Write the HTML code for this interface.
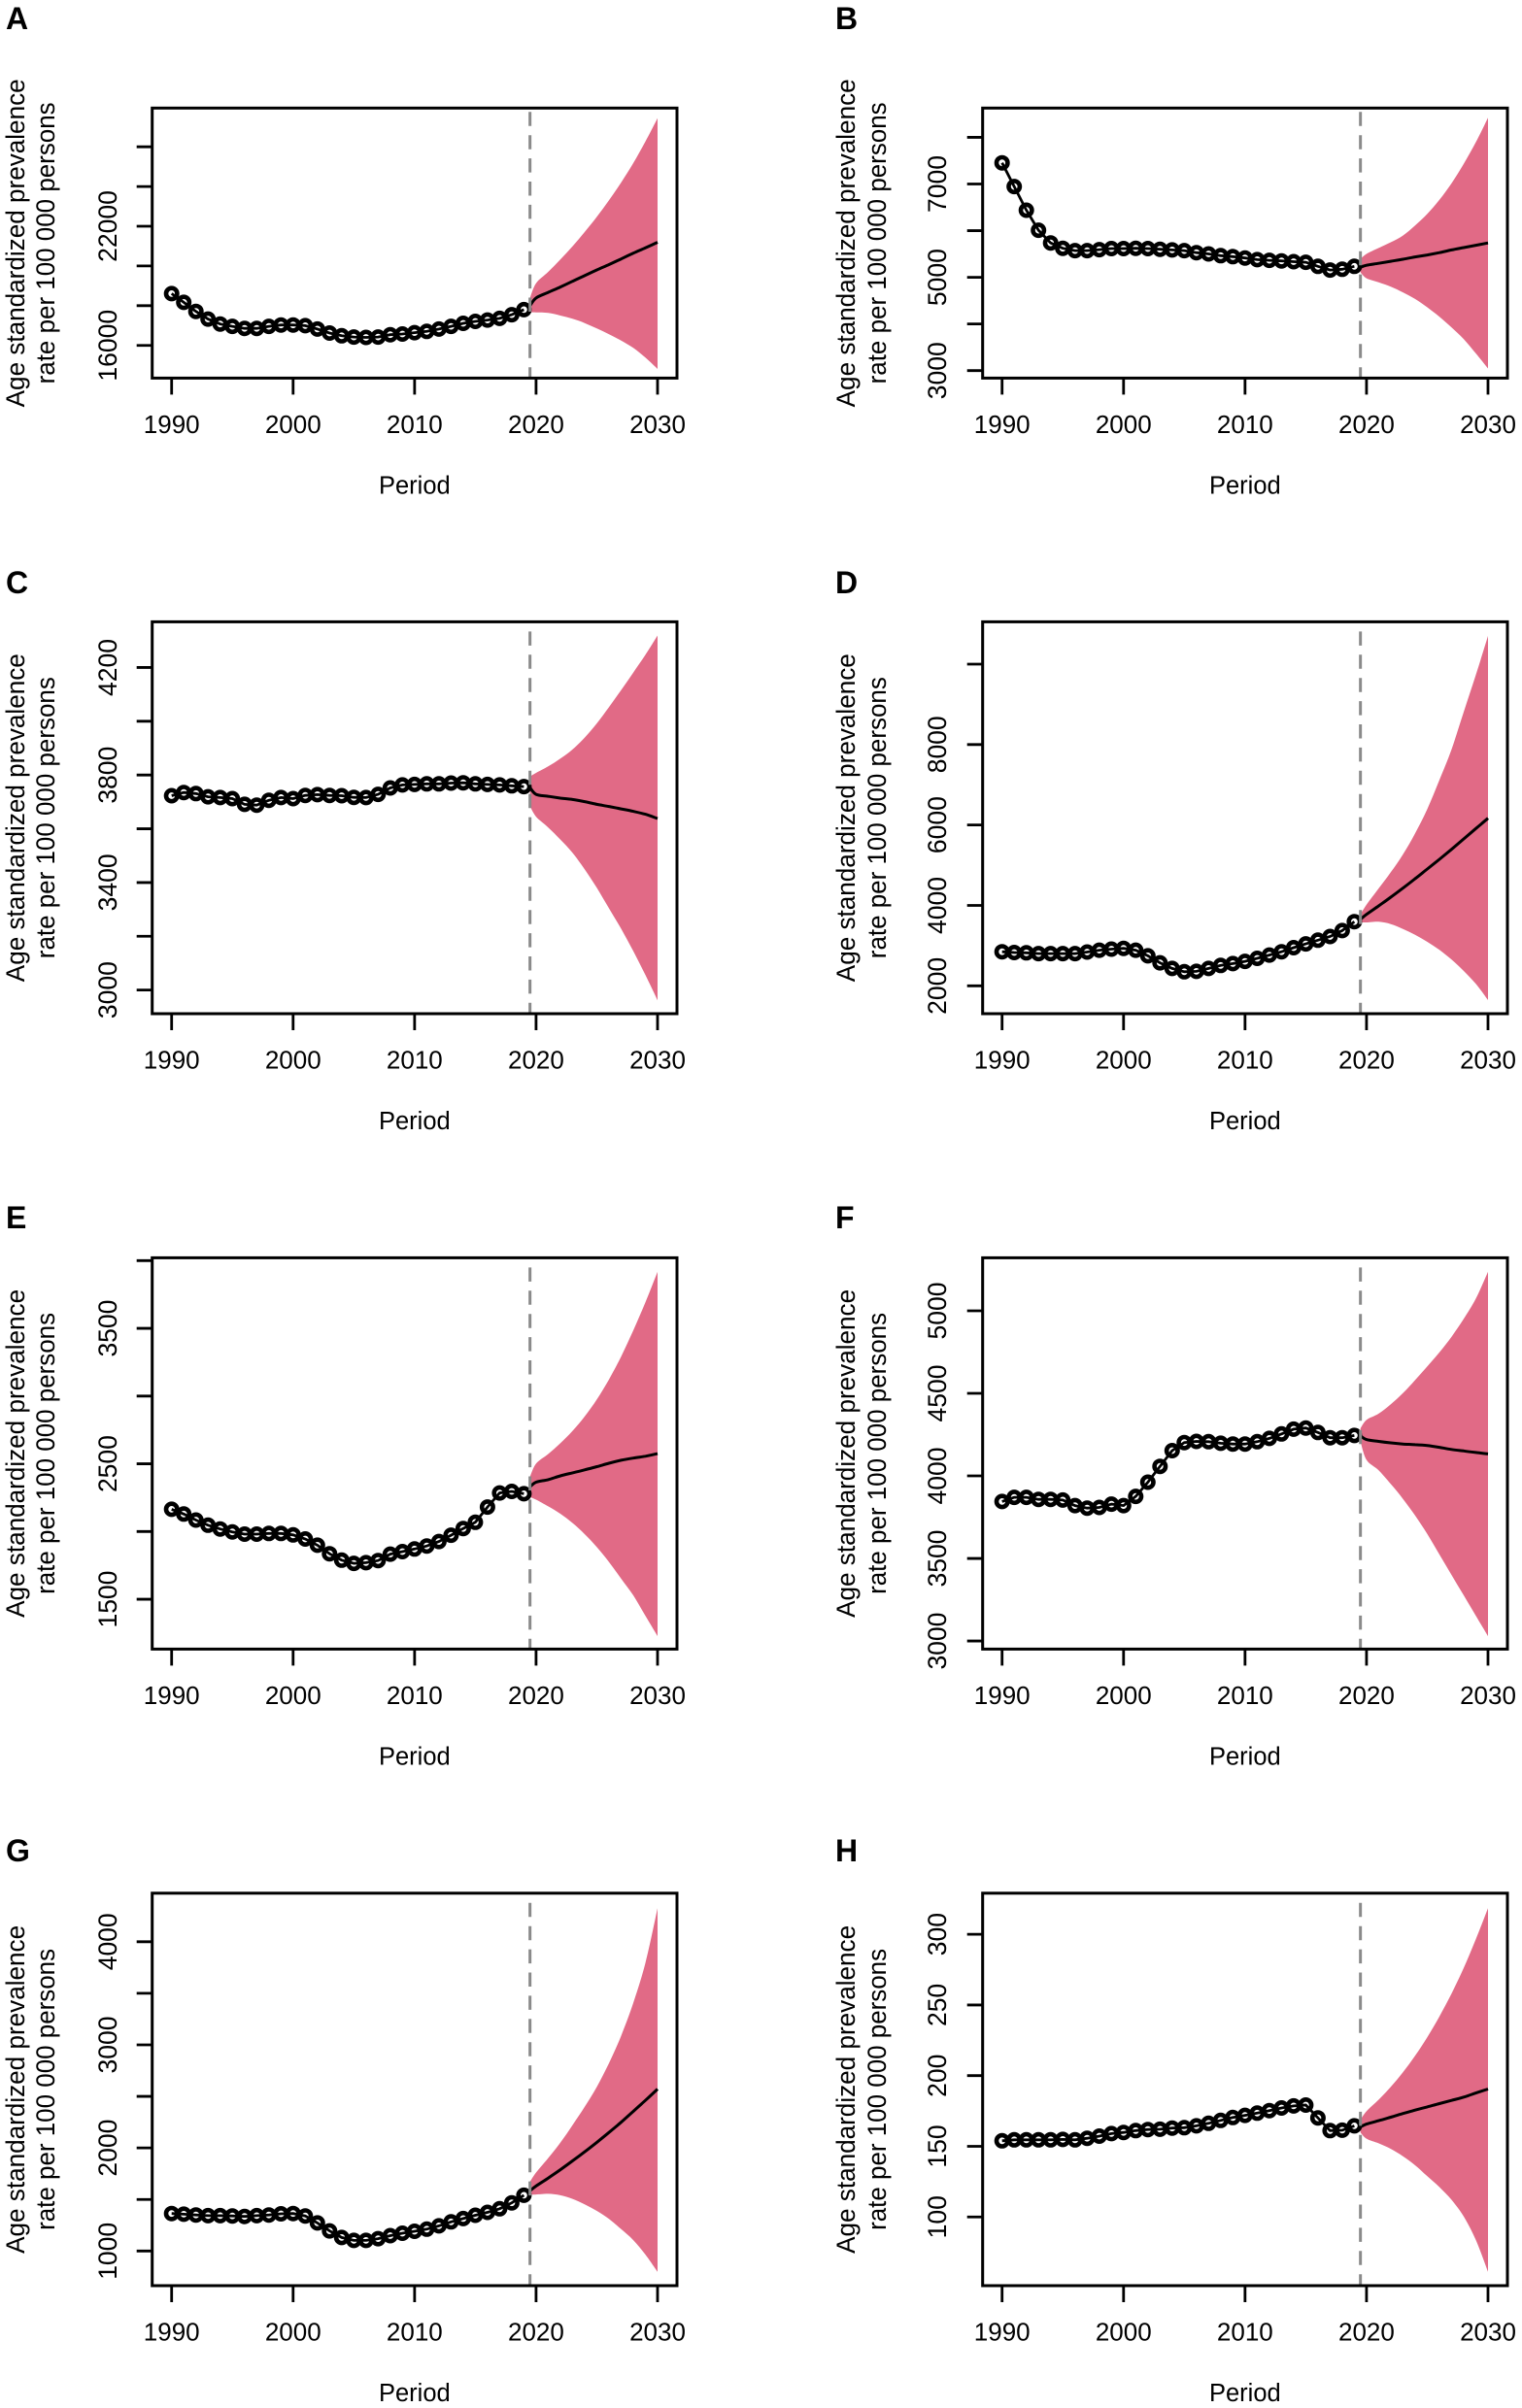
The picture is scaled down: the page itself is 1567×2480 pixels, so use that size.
<!DOCTYPE html>
<html lang="en">
<head>
<meta charset="utf-8">
<title>Age standardized prevalence rate projections</title>
<style>
html,body{margin:0;padding:0;background:#fff;}
svg{display:block;}
text{font-family:"Liberation Sans",Arial,sans-serif;fill:#000;}
</style>
</head>
<body>
<svg id="figure" xmlns="http://www.w3.org/2000/svg" width="1567" height="2480" viewBox="0 0 1567 2480"></svg>
<script>
const historyYears = [1990,1991,1992,1993,1994,1995,1996,1997,1998,1999,2000,2001,2002,2003,2004,2005,2006,2007,2008,2009,2010,2011,2012,2013,2014,2015,2016,2017,2018,2019];
const forecastYears = [2019.5,2020,2021,2022,2023,2024,2025,2026,2027,2028,2029,2030];
const xTicks = [1990,2000,2010,2020,2030];
const xDomain = [1988.4,2031.6];
const cutYear = 2019.5;

const histA = [18605,18168,17714,17328,17076,16958,16857,16857,16958,17025,17025,16992,16824,16622,16487,16420,16403,16420,16538,16571,16639,16706,16824,16958,17109,17210,17277,17361,17546,17798];
const meanA = [18000,18387,18672,18941,19227,19513,19798,20067,20353,20639,20908,21193];
const upperA = [18396,19131,19702,20321,20989,21706,22472,23303,24199,25177,26269,27442];
const lowerA = [17663,17663,17634,17502,17340,17125,16851,16558,16245,15873,15385,14813];
const ticksA = [16000,18000,20000,22000,24000,26000];
const tickLabelsA = [16000,22000];
const domainA = [14353,27950];

const histB = [7453,6946,6438,6009,5737,5622,5572,5572,5594,5615,5615,5622,5615,5601,5587,5572,5529,5501,5465,5443,5415,5379,5365,5351,5336,5322,5236,5157,5172,5236];
const meanB = [5215,5258,5300,5343,5386,5436,5479,5529,5587,5637,5687,5737];
const upperB = [5393,5501,5629,5751,5894,6109,6359,6660,7017,7432,7897,8419];
const lowerB = [5107,4979,4893,4800,4678,4535,4356,4156,3927,3677,3369,3047];
const ticksB = [3000,4000,5000,6000,7000,8000];
const tickLabelsB = [3000,5000,7000];
const domainB = [2840,8627];

const histC = [3723,3735,3731,3719,3716,3712,3691,3688,3706,3716,3712,3724,3727,3724,3723,3717,3716,3728,3752,3763,3765,3767,3767,3770,3771,3767,3765,3763,3760,3757];
const meanC = [3753,3728,3721,3714,3709,3701,3691,3683,3674,3665,3654,3638];
const upperC = [3794,3808,3832,3861,3895,3939,3992,4053,4116,4181,4247,4319];
const lowerC = [3684,3645,3605,3560,3511,3449,3380,3304,3228,3145,3056,2962];
const ticksC = [3000,3200,3400,3600,3800,4000,4200];
const tickLabelsC = [3000,3400,3800,4200];
const domainC = [2912,4370];

const histD = [2849,2830,2821,2803,2803,2803,2803,2840,2886,2913,2932,2886,2747,2572,2434,2351,2360,2434,2507,2554,2609,2683,2766,2849,2950,3043,3135,3227,3375,3596];
const meanD = [3657,3778,3988,4205,4430,4663,4905,5146,5396,5653,5911,6168];
const upperD = [3778,4019,4422,4825,5267,5790,6394,7118,7881,8809,9733,10699];
const lowerD = [3577,3577,3594,3536,3416,3271,3094,2894,2653,2370,2049,1646];
const ticksD = [2000,4000,6000,8000,10000];
const tickLabelsD = [2000,4000,6000,8000];
const domainD = [1308,11052];

const histE = [2164,2129,2085,2047,2019,1997,1981,1981,1986,1986,1975,1945,1899,1836,1789,1765,1770,1786,1833,1852,1871,1893,1926,1973,2022,2068,2181,2285,2296,2279];
const meanE = [2331,2364,2383,2411,2433,2455,2479,2504,2526,2542,2556,2575];
const upperE = [2405,2501,2572,2652,2742,2849,2975,3123,3292,3484,3692,3917];
const lowerE = [2255,2235,2186,2131,2063,1981,1885,1775,1652,1529,1378,1228];
const ticksE = [1500,2000,2500,3000,3500,4000];
const tickLabelsE = [1500,2500,3500];
const domainE = [1132,4021];

const histF = [3845,3870,3870,3858,3858,3854,3820,3805,3809,3829,3820,3876,3962,4058,4153,4202,4209,4207,4198,4193,4193,4207,4227,4254,4283,4290,4263,4231,4231,4245];
const meanF = [4243,4220,4209,4200,4193,4189,4184,4173,4160,4151,4142,4133];
const upperF = [4288,4339,4377,4434,4501,4580,4663,4748,4843,4951,5074,5236];
const lowerF = [4209,4097,4034,3951,3861,3760,3648,3524,3400,3277,3153,3029];
const ticksF = [3000,3500,4000,4500,5000];
const tickLabelsF = [3000,3500,4000,4500,5000];
const domainF = [2951,5321];

const histG = [1364,1357,1350,1343,1343,1340,1336,1343,1350,1361,1364,1340,1272,1195,1131,1103,1103,1120,1149,1173,1191,1212,1244,1283,1315,1347,1375,1410,1467,1541];
const meanG = [1584,1630,1708,1789,1874,1962,2054,2150,2249,2355,2461,2571];
const upperG = [1672,1761,1902,2051,2221,2398,2592,2822,3087,3406,3795,4326];
const lowerG = [1548,1548,1555,1541,1506,1453,1389,1311,1212,1106,965,798];
const ticksG = [1000,1500,2000,2500,3000,3500,4000];
const tickLabelsG = [1000,2000,3000,4000];
const domainG = [664,4471];

const histH = [153.9,154.6,154.6,154.6,154.6,154.9,154.6,155.7,157.2,159.0,159.8,161.1,161.9,162.1,162.9,163.2,164.5,166.3,168.3,170.4,171.9,173.5,175.3,177.1,178.6,179.2,170.1,161.1,161.4,164.5];
const meanH = [163.7,165.7,168.1,170.6,173.2,175.6,177.9,180.2,182.5,184.8,187.7,190.5];
const upperH = [168.8,174.8,183,192.1,202.4,214,227.2,241.9,258.1,276.2,296.6,318.5];
const lowerH = [159.8,155.4,152.1,148.2,143,136.6,128.8,121.1,112.1,100.4,83.7,61.2];
const ticksH = [100,150,200,250,300];
const tickLabelsH = [100,150,200,250,300];
const domainH = [51.4,329.1];

const titleLine1 = "Age standardized prevalence";
const titleLine2 = "rate per 100 000 persons";
const xTitle = "Period";

const panels = [
  {id:'A',col:0,top:111.3,bottom:389.4,dashInset:4,letterY:30,hist:histA,mean:meanA,upper:upperA,lower:lowerA,ticks:ticksA,labels:tickLabelsA,domain:domainA},
  {id:'B',col:1,top:111.3,bottom:389.4,dashInset:4,letterY:30,hist:histB,mean:meanB,upper:upperB,lower:lowerB,ticks:ticksB,labels:tickLabelsB,domain:domainB},
  {id:'C',col:0,top:640.4,bottom:1044,dashInset:10,letterY:611,hist:histC,mean:meanC,upper:upperC,lower:lowerC,ticks:ticksC,labels:tickLabelsC,domain:domainC},
  {id:'D',col:1,top:640.4,bottom:1044,dashInset:10,letterY:611,hist:histD,mean:meanD,upper:upperD,lower:lowerD,ticks:ticksD,labels:tickLabelsD,domain:domainD},
  {id:'E',col:0,top:1295.4,bottom:1698.4,dashInset:10,letterY:1265,hist:histE,mean:meanE,upper:upperE,lower:lowerE,ticks:ticksE,labels:tickLabelsE,domain:domainE},
  {id:'F',col:1,top:1295.4,bottom:1698.4,dashInset:10,letterY:1265,hist:histF,mean:meanF,upper:upperF,lower:lowerF,ticks:ticksF,labels:tickLabelsF,domain:domainF},
  {id:'G',col:0,top:1949.8,bottom:2354,dashInset:10,letterY:1917,hist:histG,mean:meanG,upper:upperG,lower:lowerG,ticks:ticksG,labels:tickLabelsG,domain:domainG},
  {id:'H',col:1,top:1949.8,bottom:2354,dashInset:10,letterY:1917,hist:histH,mean:meanH,upper:upperH,lower:lowerH,ticks:ticksH,labels:tickLabelsH,domain:domainH}
];

const columns = [
  {left:156.7,right:697,letterX:6,title1X:25,title2X:56,tickLabelX:120},
  {left:1011.7,right:1552,letterX:860,title1X:880,title2X:912,tickLabelX:974}
];

const SVG_NS = "http://www.w3.org/2000/svg";
const figure = document.getElementById('figure');

function make(parent, tag, attrs, content) {
  const el = document.createElementNS(SVG_NS, tag);
  for (const k in attrs) el.setAttribute(k, attrs[k]);
  if (content !== undefined) el.textContent = content;
  parent.appendChild(el);
  return el;
}

// Smooth curve segments through the points (Catmull-Rom to cubic Bezier).
function curveSegments(pts) {
  let d = '';
  for (let i = 0; i < pts.length - 1; i++) {
    const p0 = pts[Math.max(i - 1, 0)];
    const p1 = pts[i];
    const p2 = pts[i + 1];
    const p3 = pts[Math.min(i + 2, pts.length - 1)];
    const c1x = p1[0] + (p2[0] - p0[0]) / 6;
    const c1y = p1[1] + (p2[1] - p0[1]) / 6;
    const c2x = p2[0] - (p3[0] - p1[0]) / 6;
    const c2y = p2[1] - (p3[1] - p1[1]) / 6;
    d += ' C' + c1x.toFixed(1) + ' ' + c1y.toFixed(1) + ' ' + c2x.toFixed(1) + ' ' + c2y.toFixed(1) + ' ' + p2[0].toFixed(1) + ' ' + p2[1].toFixed(1);
  }
  return d;
}

function drawPanel(p) {
  const c = columns[p.col];
  const xs = y => c.left + (y - xDomain[0]) / (xDomain[1] - xDomain[0]) * (c.right - c.left);
  const ys = v => p.bottom - (v - p.domain[0]) / (p.domain[1] - p.domain[0]) * (p.bottom - p.top);
  const midY = (p.top + p.bottom) / 2;
  const lc = p.id.toLowerCase();

  const g = make(figure, 'g', {});
  
  

  const letter = make(g, 'text', {x:c.letterX, y:p.letterY, 'font-size':32, 'font-weight':'bold'}, p.id);
  
  

  const upperPts = forecastYears.map((y,i) => [xs(y), ys(p.upper[i])]);
  const lowerPts = forecastYears.map((y,i) => [xs(y), ys(p.lower[i])]).reverse();
  const meanPts = forecastYears.map((y,i) => [xs(y), ys(p.mean[i])]);

  const bandD = 'M' + upperPts[0][0].toFixed(1) + ' ' + upperPts[0][1].toFixed(1) + curveSegments(upperPts)
    + ' L' + lowerPts[0][0].toFixed(1) + ' ' + lowerPts[0][1].toFixed(1) + curveSegments(lowerPts) + ' Z';
  const band = make(g, 'path', {d:bandD, fill:'#E16A86', stroke:'none'});
  
  

  const histLine = make(g, 'polyline', {points:historyYears.map((y,i) => xs(y).toFixed(1) + ',' + ys(p.hist[i]).toFixed(1)).join(' '), fill:'none', stroke:'#000', 'stroke-width':2.8});
  
  

  historyYears.forEach((y,i) => {
    const pt = make(g, 'circle', {cx:xs(y).toFixed(1), cy:ys(p.hist[i]).toFixed(1), r:5.7, fill:'none', stroke:'#000', 'stroke-width':4.6});
    
    
  });

  const meanD = 'M' + meanPts[0][0].toFixed(1) + ' ' + meanPts[0][1].toFixed(1) + curveSegments(meanPts);
  const meanLine = make(g, 'path', {d:meanD, fill:'none', stroke:'#000', 'stroke-width':3, 'stroke-linejoin':'round'});
  
  

  const dash = make(g, 'line', {x1:xs(cutYear), x2:xs(cutYear), y1:p.top + p.dashInset, y2:p.bottom, stroke:'#8a8a8a', 'stroke-width':3, 'stroke-dasharray':'14.5 9.4'});
  
  

  const frame = make(g, 'rect', {x:c.left, y:p.top, width:c.right - c.left, height:p.bottom - p.top, fill:'none', stroke:'#000', 'stroke-width':3});
  
  

  xTicks.forEach(t => {
    const tk = make(g, 'line', {x1:xs(t), x2:xs(t), y1:p.bottom, y2:p.bottom + 17, stroke:'#000', 'stroke-width':2.8});
    
    
    const lb = make(g, 'text', {x:xs(t), y:p.bottom + 56.5, 'font-size':26, 'text-anchor':'middle'}, String(t));
    
    
  });

  p.ticks.forEach(t => {
    const tk = make(g, 'line', {x1:c.left, x2:c.left - 16, y1:ys(t), y2:ys(t), stroke:'#000', 'stroke-width':2.8});
    
    
  });
  p.labels.forEach(t => {
    const yy = ys(t);
    const lb = make(g, 'text', {x:c.tickLabelX, y:yy, 'font-size':26.5, 'text-anchor':'middle', transform:'rotate(-90 ' + c.tickLabelX + ' ' + yy + ')'}, String(t));
    
    
  });

  const t1 = make(g, 'text', {x:c.title1X, y:midY, 'font-size':26.5, 'text-anchor':'middle', textLength:338, lengthAdjust:'spacingAndGlyphs', transform:'rotate(-90 ' + c.title1X + ' ' + midY + ')'}, titleLine1);
  
  
  const t2 = make(g, 'text', {x:c.title2X, y:midY, 'font-size':26.5, 'text-anchor':'middle', textLength:290, lengthAdjust:'spacingAndGlyphs', transform:'rotate(-90 ' + c.title2X + ' ' + midY + ')'}, titleLine2);
  
  

  const xt = make(g, 'text', {x:xs(2010), y:p.bottom + 119, 'font-size':25.5, 'text-anchor':'middle'}, xTitle);
  
  
}

panels.forEach(drawPanel);
</script>
</body>
</html>
